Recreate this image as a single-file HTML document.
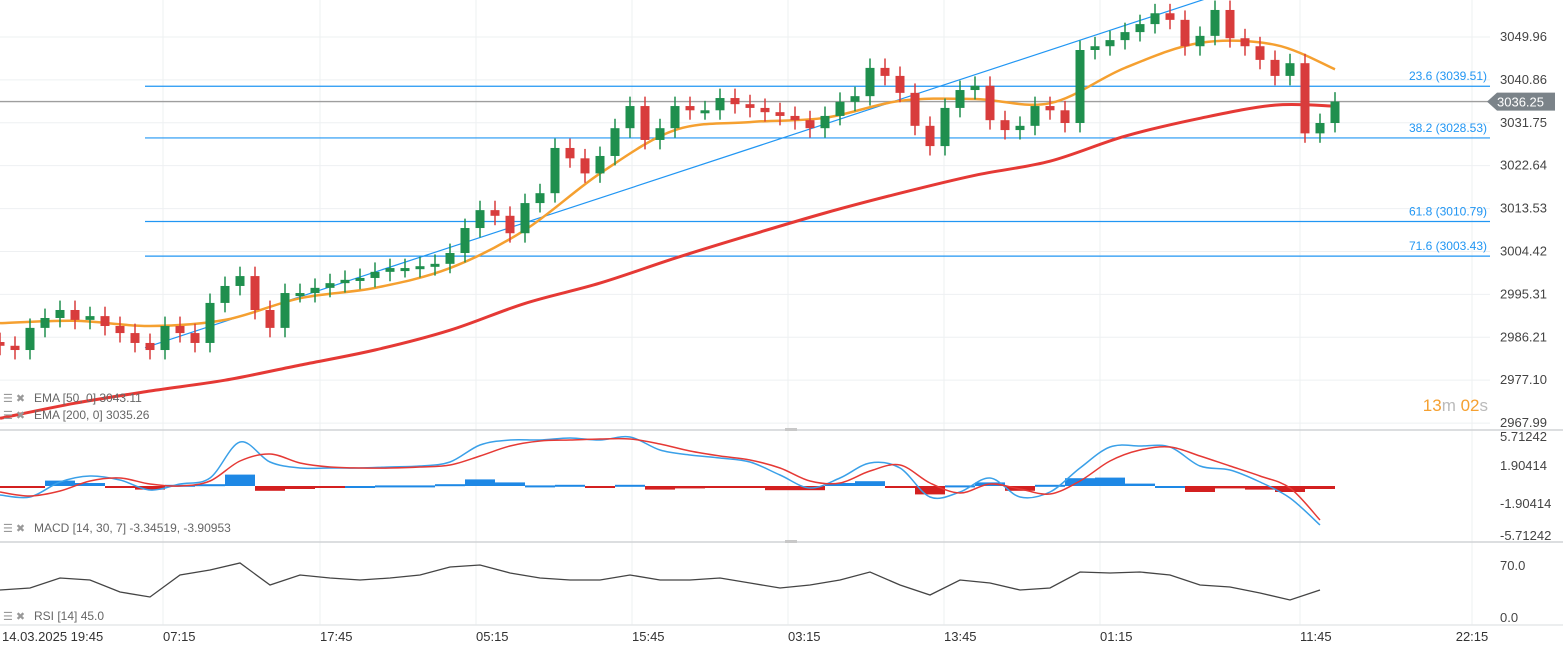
<!DOCTYPE html>
<html><head><meta charset="utf-8"><style>
html,body{margin:0;padding:0;background:#fff;}
svg{display:block;font-family:"Liberation Sans",sans-serif;}
</style></head><body>
<svg id="chart" width="1563" height="655" viewBox="0 0 1563 655" xmlns="http://www.w3.org/2000/svg">
<g id="grid"></g>
<g id="fib"></g>
<g id="ema"></g>
<g id="candles"></g>
<g id="macd"></g>
<g id="rsi"></g>
<g id="axes"></g>
</svg>
<script>
const closes=[2984.4,2983.5,2988.2,2990.3,2992.0,2989.9,2990.7,2988.6,2987.1,2985.0,2983.5,2988.6,2987.1,2985.0,2993.5,2997.1,2999.2,2992.0,2988.2,2995.6,2995.6,2996.7,2997.7,2998.4,2998.8,3000.1,3000.9,3000.9,3001.3,3001.8,3004.1,3009.4,3013.2,3012.0,3008.3,3014.7,3016.8,3026.4,3024.2,3021.0,3024.7,3030.6,3035.3,3028.1,3030.6,3035.3,3034.4,3034.4,3037.0,3035.7,3034.9,3034.0,3033.2,3032.3,3030.6,3033.2,3036.2,3037.4,3043.4,3041.7,3038.1,3031.1,3026.8,3034.9,3038.7,3039.6,3032.3,3030.2,3031.1,3035.3,3034.4,3031.7,3047.2,3048.0,3049.3,3051.0,3052.7,3055.0,3053.6,3048.0,3050.2,3055.7,3049.7,3048.0,3045.1,3041.7,3044.4,3029.5,3031.7,3036.25];
const ema50=[2989.2,2989.7,2988.6,2989.9,2994.5,2996.7,3000.9,3009.0,3021.0,3030.2,3031.9,3032.8,3036.4,3036.8,3035.9,3043.4,3048.7,3048.3,3043.1];
const ema200=[2969.0,2972.2,2974.8,2977.1,2980.3,2983.5,2987.7,2993.4,2997.7,3003.0,3007.9,3012.6,3016.8,3020.6,3023.6,3028.9,3032.7,3035.5,3035.26];
const macdLine=[-0.9,-1.1,0.4,1.0,0.6,-0.4,0.2,0.8,4.4,2.4,1.8,1.8,1.8,1.9,2.0,2.4,4.1,4.6,4.6,4.8,4.6,4.9,3.6,3.1,2.8,2.4,1.1,-0.2,0.8,2.3,1.8,-1.1,-0.6,0.8,-1.1,-0.6,1.8,3.9,4.0,3.9,2.0,1.6,0.4,-1.2,-3.9];
const signalLine=[-0.6,-1.0,-0.5,0.5,0.8,0.2,0.0,0.5,2.5,3.2,2.3,1.9,1.8,1.8,1.9,2.1,3.0,4.0,4.5,4.6,4.7,4.7,4.2,3.5,3.0,2.6,1.8,0.5,0.3,1.5,2.1,0.3,-0.7,0.2,-0.3,-0.8,0.5,2.5,3.6,3.9,3.0,2.0,1.0,-0.2,-3.4];
const rsiVals=[37.7,40.4,53.8,51.1,35.0,28.3,57.9,64.6,74.0,44.4,57.9,53.8,51.1,53.8,57.9,68.6,71.3,60.6,53.8,51.1,51.1,57.9,51.1,51.1,53.8,47.1,40.4,44.4,51.1,61.9,44.4,31.0,51.1,47.1,37.7,40.4,61.9,60.6,61.9,57.9,44.4,41.7,33.6,24.2,37.7];
const priceTicks=["3049.96","3040.86","3031.75","3022.64","3013.53","3004.42","2995.31","2986.21","2977.10","2967.99"];
const macdTicks=["5.71242","1.90414","-1.90414","-5.71242"];
const rsiTicks=["70.0","0.0"];
const fibLevels=[23.6,38.2,61.8,71.6];
const fibPrices=[3039.51,3028.53,3010.79,3003.43];
const timeLabels=["07:15","17:45","05:15","15:45","03:15","13:45","01:15","11:45","22:15"];
const trendLine=[2984.0,3058.5];

const NS="http://www.w3.org/2000/svg";
function mk(parent,tag,attrs,text){const e=document.createElementNS(NS,tag);for(const k in attrs)e.setAttribute(k,attrs[k]);if(text!==undefined)e.textContent=text;parent.appendChild(e);return e;}
const yP=p=>37+(3049.96-p)*4.71;
const xC=i=>i*15;
const xE=i=>i*75>1335?1335:i*75;
const xM=i=>i*30;
const yM=v=>486-v*10;
const yR=v=>618-v*0.743;
const G=id=>document.getElementById(id);
function smooth(arr,fx,fy){const P=arr.map((v,i)=>[fx(i),fy(v)]);let d='M'+P[0][0]+','+P[0][1];
for(let i=0;i<P.length-1;i++){const p0=P[i-1]||P[i],p1=P[i],p2=P[i+1],p3=P[i+2]||P[i+1];
const c1=[p1[0]+(p2[0]-p0[0])/6,p1[1]+(p2[1]-p0[1])/6],c2=[p2[0]-(p3[0]-p1[0])/6,p2[1]-(p3[1]-p1[1])/6];
d+=' C'+c1[0].toFixed(1)+','+c1[1].toFixed(1)+' '+c2[0].toFixed(1)+','+c2[1].toFixed(1)+' '+p2[0].toFixed(1)+','+p2[1].toFixed(1);}return d;}

// grid
const grid=G('grid');
const timeX=[163,320,476,632,788,944,1100,1300,1472];
timeX.forEach(x=>{const l=mk(grid,'line',{x1:x,x2:x,y1:0,y2:625,stroke:'#eef0f2'});});
priceTicks.forEach(t=>{const y=yP(+t);const l=mk(grid,'line',{x1:0,x2:1490,y1:y,y2:y,stroke:'#eef0f2'});});
[[430,'#d0d3d6'],[542,'#d0d3d6'],[625,'#e6e8ea']].forEach(([y,c])=>{const l=mk(grid,'line',{x1:0,x2:1563,y1:y,y2:y,stroke:c,'stroke-width':1.5});});
mk(grid,'rect',{x:785,y:428,width:12,height:3,fill:'#c8c8c8'});
mk(grid,'rect',{x:785,y:540,width:12,height:3,fill:'#c8c8c8'});

// fib + trend line + current price
const fib=G('fib');
fibPrices.forEach((p,i)=>{const y=yP(p);
const l=mk(fib,'line',{x1:145,x2:1490,y1:y,y2:y,stroke:'#2196f3','stroke-width':1.2});
const t=mk(fib,'text',{x:1487,y:y-6,'text-anchor':'end','font-size':12,fill:'#2196f3'},fibLevels[i].toFixed(1)+' ('+p.toFixed(2)+')');});
const tl=mk(fib,'line',{x1:145,y1:yP(trendLine[0]),x2:1212,y2:yP(trendLine[1]),stroke:'#2196f3','stroke-width':1.2});


const cy=yP(closes[closes.length-1]);
const cl=mk(fib,'line',{x1:0,x2:1490,y1:cy,y2:cy,stroke:'#9e9e9e','stroke-width':1.3});



// EMAs
const ema=G('ema');
const pts=(arr,fx,fy)=>arr.map((v,i)=>fx(i).toFixed(1)+','+fy(v).toFixed(1)).join(' ');
const e2=mk(ema,'path',{d:smooth(ema200,xE,yP),fill:'none',stroke:'#e53935','stroke-width':3});


const e1=mk(ema,'path',{d:smooth(ema50,xE,yP),fill:'none',stroke:'#f5a030','stroke-width':2.5});



// candles
const cg=G('candles');
closes.forEach((c,i)=>{const o=i?closes[i-1]:c+0.8;const up=c>=o;const col=up?'#1f8f4e':'#d83c3c';const x=xC(i);
const hi=Math.max(o,c)+2,lo=Math.min(o,c)-2;
const w=mk(cg,'line',{x1:x,x2:x,y1:yP(hi),y2:yP(lo),stroke:col,'stroke-width':1.5});
const top=yP(Math.max(o,c)),h=Math.max(3,yP(Math.min(o,c))-top);
const b=mk(cg,'rect',{x:x-4.5,y:top,width:9,height:h,fill:col});});

// MACD
const mg=G('macd');
macdLine.forEach((v,i)=>{const d=(v-signalLine[i])*6;const y0=yM(0);const col=d>=0?'#1e88e5':'#d32020';
const r=mk(mg,'rect',{x:xM(i)-15,y:d>=0?y0-d:y0,width:30,height:Math.max(2,Math.abs(d)),fill:col});});
const ml=mk(mg,'path',{d:smooth(macdLine,xM,yM),fill:'none',stroke:'#3aa0e8','stroke-width':1.5});


const sl=mk(mg,'path',{d:smooth(signalLine,xM,yM),fill:'none',stroke:'#e53935','stroke-width':1.5});



// RSI
const rg=G('rsi');
const rl=mk(rg,'polyline',{points:pts(rsiVals,xM,yR),fill:'none',stroke:'#444','stroke-width':1.3});



// axes
const ax=G('axes');
priceTicks.forEach(t=>{const e=mk(ax,'text',{x:1500,y:yP(+t)+4,'font-size':13,fill:'#444'},t);});
const ml2=[437,466,504,536];
macdTicks.forEach((t,i)=>{const e=mk(ax,'text',{x:1500,y:ml2[i]+4,'font-size':13,fill:'#444'},t);});
[70,0].forEach((v,i)=>{const e=mk(ax,'text',{x:1500,y:yR(v)+4,'font-size':13,fill:'#444'},rsiTicks[i]);});
const tag=mk(ax,'path',{d:`M1487 ${cy} L1497 ${cy-9} L1555 ${cy-9} L1555 ${cy+9} L1497 ${cy+9} Z`,fill:'#7b8389'});


const tt=mk(ax,'text',{x:1497,y:cy+5,'font-size':13,fill:'#fff'},'3036.25');


const d0=mk(ax,'text',{x:2,y:641,'font-size':13,fill:'#333'},'14.03.2025  19:45');


timeLabels.forEach((t,i)=>{const e=mk(ax,'text',{x:timeX[i],y:641,'font-size':13,fill:'#333','text-anchor':i==8?'middle':'start'},t);});
const cd=mk(ax,'text',{x:1488,y:411,'font-size':17,'text-anchor':'end'});


cd.innerHTML='<tspan fill="#f5a030">13</tspan><tspan fill="#bbb">m </tspan><tspan fill="#f5a030">02</tspan><tspan fill="#bbb">s</tspan>';
function legend(y,txt,name){const ic=mk(ax,'text',{x:3,y:y,'font-size':11,fill:'#999'},'☰ ✖');
const t=mk(ax,'text',{x:34,y:y,'font-size':12,fill:'#666'},txt);}
legend(402,'EMA [50, 0] 3043.11','ema50-legend');
legend(419,'EMA [200, 0] 3035.26','ema200-legend');
legend(532,'MACD [14, 30, 7] -3.34519,  -3.90953','macd-legend');
legend(620,'RSI [14] 45.0','rsi-legend');
</script>
</body></html>
